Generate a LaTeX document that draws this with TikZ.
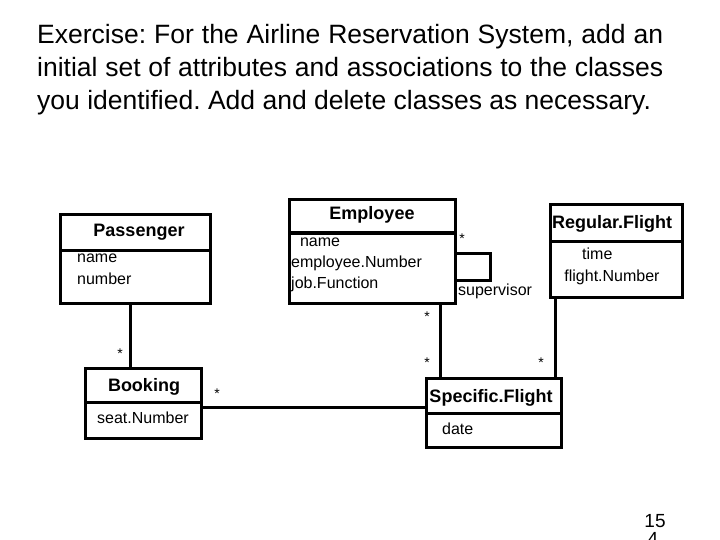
\documentclass[tikz,border=0pt]{standalone}
\usepackage{fontspec}
\setmainfont{Liberation Sans}
\begin{document}
\begin{tikzpicture}[x=1pt,y=-1pt,
  box/.style={draw,line width=3pt},
  ln/.style={line width=3pt},
  ttl/.style={font=\fontsize{18}{20}\selectfont\bfseries,inner sep=0},
  att/.style={font=\fontsize{16}{22}\selectfont,inner sep=0,align=left,anchor=north west},
  st/.style={font=\fontsize{14}{14}\selectfont,inner sep=0}]
\useasboundingbox (0,0) rectangle (720,540);
\node[anchor=north west,inner sep=0,text width=626pt,align=justify,font=\fontsize{26.5}{33}\selectfont] (title) at (37,24)
 {\frenchspacing\hyphenpenalty=10000\exhyphenpenalty=10000 Exercise: For the Airline Reservation System, add an initial set of attributes and associations to the classes you identified. Add and delete classes as necessary.};
% supervisor label (partly hidden)
\node[font=\fontsize{16}{16}\selectfont,inner sep=0,anchor=west] (sup) at (458,291) {supervisor};
% boxes
\draw[box,fill=white] (60,215) rectangle (210,303); \draw[ln] (60,250) -- (210,250);
\node[ttl] (pass) at (139,232) {Passenger};
\node[att] (passa) at (77,254) {name\\number};
\draw[box,fill=white] (289,200) rectangle (455,303); \draw[ln] (289,233) -- (455,233);
\node[ttl] (emp) at (372,215) {Employee};
\node[att,font=\fontsize{16}{21}\selectfont] (empa) at (291,238) {\ \ name\\employee.Number\\job.Function};
\draw[box,fill=white] (550,205) rectangle (682,297); \draw[ln] (550,241) -- (682,241);
\node[ttl] (rf) at (612,224) {Regular.Flight};
\node[att,anchor=north] (rfa) at (612,248) {\ \ \ \ time\\flight.Number};
\draw[box,fill=white] (85,368) rectangle (201,438); \draw[ln] (85,402) -- (201,402);
\node[ttl] (book) at (144,387) {Booking};
\node[att] (booka) at (97,412) {seat.Number};
\draw[box,fill=white] (426,378) rectangle (561,447); \draw[ln] (426,413) -- (561,413);
\node[ttl] (sf) at (491,398) {Specific.Flight};
\node[att] (sfa) at (442,423) {date};
% connectors
\coordinate (p1) at (130,303); \coordinate (b1) at (130,368);
\draw[ln] (p1) -- (b1);
\coordinate (e1) at (440,303); \coordinate (s1) at (440,378);
\draw[ln] (e1) -- (s1);
\coordinate (r1) at (555,297); \coordinate (s2) at (555,378);
\draw[ln] (r1) -- (s2);
\coordinate (b2) at (201,407); \coordinate (s3) at (426,407);
\draw[ln] (b2) -- (s3);
\coordinate (l1) at (455,253); \coordinate (l2) at (455,280);
\draw[ln] (l1) -- (490,253) -- (490,280) -- (l2);
% multiplicities
\node[st] (m1) at (120,354) {*};
\node[st] (m2) at (462,239) {*};
\node[st] (m3) at (427,317) {*};
\node[st] (m4) at (427,363) {*};
\node[st] (m5) at (541,363) {*};
\node[st] (m6) at (217,394) {*};
% page number
\node[font=\fontsize{19}{19}\selectfont\rmfamily,inner sep=0] (pg) at (655,521) {15};
\node[font=\fontsize{19}{19}\selectfont\rmfamily,inner sep=0,anchor=north] (pg2) at (653,532) {4};
\end{tikzpicture}
\end{document}
